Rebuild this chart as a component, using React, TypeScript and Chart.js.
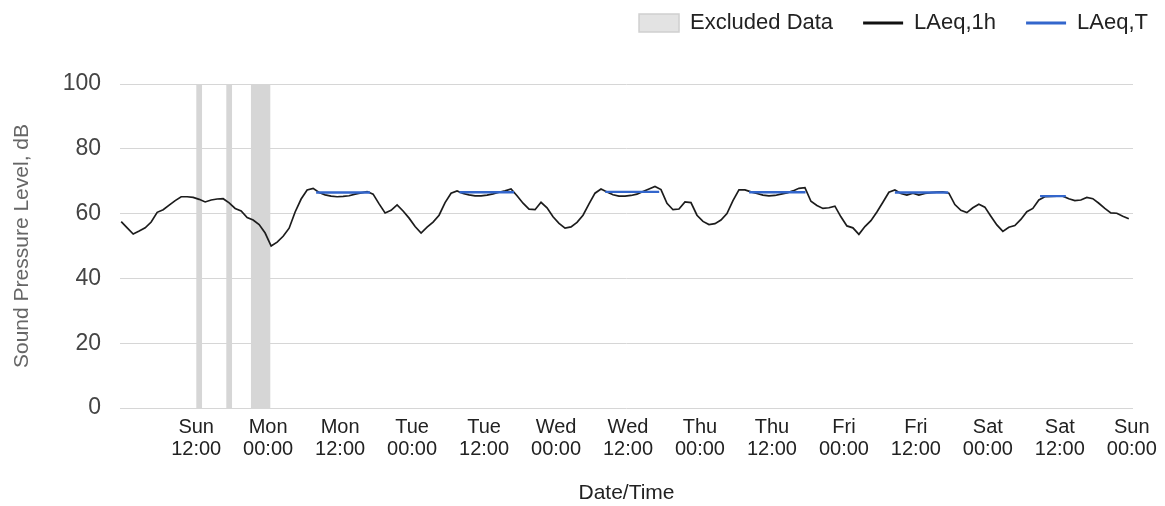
import React, { useEffect, useRef } from 'react';
import { Chart, registerables } from 'chart.js';

Chart.register(...registerables);

// Hours are counted from Sunday 00:00 at the start of the record.
const firstSampleHour = -0.5;

// LAeq,1h hourly values (dB), one row per 24 hours
const laeq1h: number[] = [
  57.5, 55.6, 53.7, 54.6, 55.6, 57.4, 60.4, 61.2, 62.6, 64.0, 65.2, 65.2, 65.0, 64.4, 63.6, 64.2, 64.5, 64.6, 63.3, 61.6, 60.8, 58.8, 58.0, 56.6,
  54.0, 50.0, 51.2, 53.0, 55.5, 60.5, 64.5, 67.3, 67.8, 66.5, 65.8, 65.4, 65.2, 65.3, 65.5, 66.0, 66.4, 66.8, 66.0, 63.0, 60.2, 61.0, 62.7, 60.8,
  58.6, 56.0, 54.0, 55.8, 57.4, 59.5, 63.4, 66.3, 67.0, 66.2, 65.8, 65.5, 65.5, 65.7, 66.1, 66.6, 67.0, 67.6, 65.5, 63.2, 61.4, 61.2, 63.5, 61.8,
  59.0, 57.0, 55.5, 55.9, 57.3, 59.5, 63.0, 66.3, 67.6, 66.7, 65.8, 65.4, 65.4, 65.6, 66.0, 66.8, 67.6, 68.4, 67.4, 63.2, 61.2, 61.4, 63.6, 63.4,
  59.5, 57.6, 56.6, 56.9, 58.0, 60.0, 64.0, 67.3, 67.3, 66.7, 66.2, 65.7, 65.5, 65.6, 66.0, 66.4, 67.0, 67.8, 68.0, 63.8, 62.5, 61.6, 61.8, 62.3,
  59.0, 56.2, 55.6, 53.6, 56.0, 57.8, 60.5, 63.5, 66.6, 67.3, 66.2, 65.7, 66.3, 65.7, 66.2, 66.5, 66.6, 66.7, 66.3, 62.8, 61.0, 60.3, 61.8, 62.9,
  62.0, 59.2, 56.5, 54.5, 55.8, 56.3, 58.2, 60.6, 61.6, 64.2, 65.2, 65.3, 65.4, 65.4, 64.6, 64.0, 64.2, 65.0, 64.6, 63.2, 61.6, 60.2, 60.1, 59.2,
  58.4,
];

// LAeq,T daytime periods
const laeqTStart: number[] = [32.0, 55.9, 80.2, 104.2, 128.5, 152.7];
const laeqTEnd: number[] = [41.0, 65.0, 89.2, 113.6, 137.4, 157.0];
const laeqTValue: number[] = [66.5, 66.6, 66.7, 66.6, 66.5, 65.4];

// Excluded data periods
const excludedStart: number[] = [12.0, 17.0, 21.1];
const excludedEnd: number[] = [13.0, 18.0, 24.4];

// X axis ticks
const tickHours: number[] = [12, 24, 36, 48, 60, 72, 84, 96, 108, 120, 132, 144, 156, 168];
const tickDays: string[] = ['Sun', 'Mon', 'Mon', 'Tue', 'Tue', 'Wed', 'Wed', 'Thu', 'Thu', 'Fri', 'Fri', 'Sat', 'Sat', 'Sun'];
const tickTimes: string[] = ['12:00', '00:00', '12:00', '00:00', '12:00', '00:00', '12:00', '00:00', '12:00', '00:00', '12:00', '00:00', '12:00', '00:00'];

const seriesNames: string[] = ['Excluded Data', 'LAeq,1h', 'LAeq,T'];

const FONT = 'Arial, "Liberation Sans", Helvetica, sans-serif';

function bandPoints(starts: number[], ends: number[], values: number[]) {
  const pts: { x: number; y: number | null }[] = [];
  starts.forEach((s, i) => {
    pts.push({ x: s, y: values[i] });
    pts.push({ x: ends[i], y: values[i] });
    if (i < starts.length - 1) pts.push({ x: (ends[i] + starts[i + 1]) / 2, y: null });
  });
  return pts;
}

export default function App() {
  const ref = useRef<HTMLCanvasElement | null>(null);

  useEffect(() => {
    document.body.style.margin = '0';
    const canvas = ref.current;
    if (!canvas) return;

    const lineData = laeq1h.map((v, i) => ({ x: firstSampleHour + i, y: v }));
    const excludedData = bandPoints(excludedStart, excludedEnd, excludedStart.map(() => 100));
    const tData = bandPoints(laeqTStart, laeqTEnd, laeqTValue);

    const legendFill = ['#e3e3e3', '#111111', '#3366cc'];
    const legendStroke = ['#d0d0d0', '#111111', '#3366cc'];
    const legendWidth = [1.5, 3, 3];

    const legendTweak = {
      id: 'legendTweak',
      beforeInit(chart: any) {
        const legend = chart.legend;
        if (legend) {
          const orig = legend.fit;
          legend.fit = function () {
            orig.call(this);
            this.height = 84;
          };
        }
      },
      afterLayout(chart: any) {
        const lg = chart.legend;
        if (lg) {
          const dx = 45;
          const dy = -18;
          lg.left += dx;
          lg.right += dx;
          lg.top += dy;
          lg.bottom += dy;
        }
      },
    };

    const chart = new Chart(canvas, {
      type: 'line',
      data: {
        datasets: [
          {
            label: seriesNames[0],
            data: excludedData,
            borderColor: 'rgba(0,0,0,0)',
            borderWidth: 0,
            backgroundColor: '#d6d6d6',
            fill: 'origin',
            pointRadius: 0,
            tension: 0,
            order: 3,
          },
          {
            label: seriesNames[1],
            data: lineData,
            borderColor: '#1c1c1c',
            borderWidth: 1.7,
            pointRadius: 0,
            fill: false,
            tension: 0,
            order: 2,
          },
          {
            label: seriesNames[2],
            data: tData,
            borderColor: '#3366cc',
            borderWidth: 2.4,
            pointRadius: 0,
            fill: false,
            tension: 0,
            order: 1,
          },
        ],
      },
      options: {
        responsive: false,
        animation: false,
        devicePixelRatio: 1,
        layout: { padding: { left: 0, right: 32, top: 0, bottom: 0 } },
        plugins: {
          tooltip: { enabled: false },
          legend: {
            display: true,
            position: 'top',
            align: 'end',
            labels: {
              usePointStyle: true,
              pointStyleWidth: 40,
              boxHeight: 18,
              padding: 30,
              color: '#222',
              font: { size: 22, family: FONT },
              generateLabels: (ch: any) =>
                ch.data.datasets.map((ds: any, i: number) => ({
                  text: ds.label,
                  datasetIndex: i,
                  hidden: false,
                  pointStyle: i === 0 ? 'rect' : 'line',
                  fillStyle: legendFill[i],
                  strokeStyle: legendStroke[i],
                  lineWidth: legendWidth[i],
                  fontColor: '#222',
                })),
            },
          },
        },
        scales: {
          x: {
            type: 'linear',
            min: -0.7,
            max: 168.2,
            afterBuildTicks: (s: any) => {
              s.ticks = tickHours.map((v) => ({ value: v }));
            },
            afterFit: (s: any) => {
              s.height = 98;
            },
            ticks: {
              autoSkip: false,
              maxRotation: 0,
              minRotation: 0,
              padding: 8,
              color: '#222',
              font: { size: 20, family: FONT, lineHeight: 1.1 },
              callback: (v: any) => {
                const i = tickHours.indexOf(Number(v));
                return i >= 0 ? [tickDays[i], tickTimes[i]] : '';
              },
            },
            grid: { display: false, drawTicks: false },
            border: { display: false },
            title: {
              display: true,
              text: 'Date/Time',
              color: '#222',
              font: { size: 21, family: FONT },
              padding: { top: 0, bottom: 0 },
            },
          },
          y: {
            min: 0,
            max: 100,
            afterFit: (s: any) => {
              s.width = 120;
            },
            ticks: {
              stepSize: 20,
              padding: 19,
              color: '#444',
              font: { size: 23, family: FONT },
            },
            grid: { color: '#d6d6d6', lineWidth: 1, drawTicks: false },
            border: { display: false },
            title: {
              display: true,
              text: 'Sound Pressure Level, dB',
              color: '#666',
              font: { size: 21, family: FONT },
              padding: { top: 10, bottom: 0 },
            },
          },
        },
      },
      plugins: [legendTweak],
    });

    return () => {
      chart.destroy();
    };
  }, []);

  return (
    <div style={{ width: 1165, height: 506, background: '#fff' }}>
      <canvas ref={ref} width={1165} height={506} style={{ display: 'block' }} />
    </div>
  );
}
